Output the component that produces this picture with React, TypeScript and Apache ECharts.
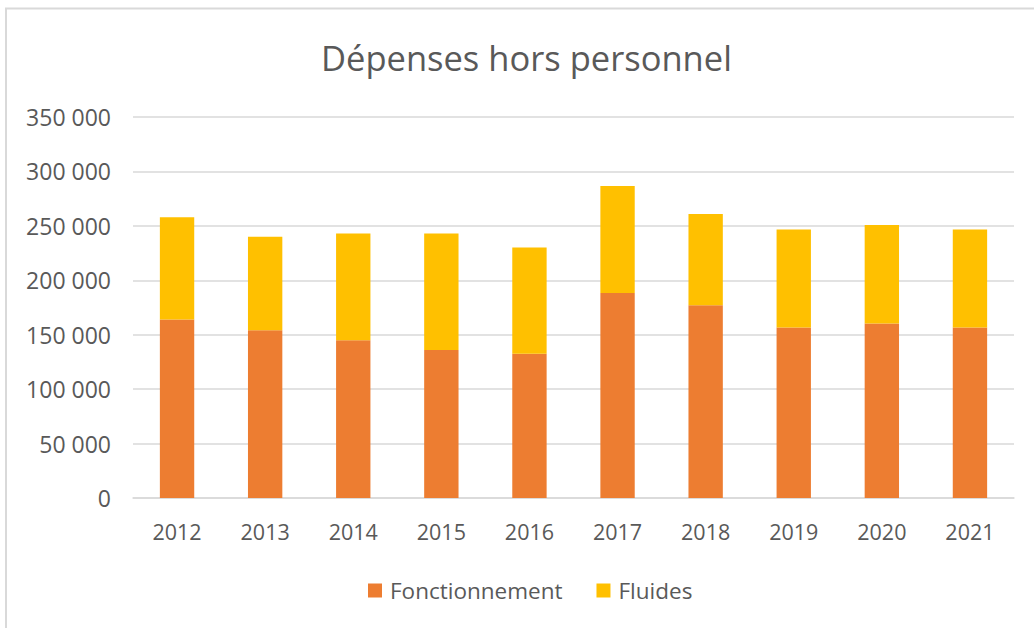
import React, { useEffect, useRef } from "react";
import * as echarts from "echarts";

const years = ["2012", "2013", "2014", "2015", "2016", "2017", "2018", "2019", "2020", "2021"];
const fonctionnement = [164000, 154000, 145000, 136000, 132500, 188300, 177000, 156700, 160400, 156700];
const fluides = [94000, 86000, 98000, 107000, 97700, 98200, 83800, 90000, 90300, 90000];
const yTicks = { min: 0, max: 350000, interval: 50000 };

const fmt = (v: number) => String(v).replace(/\B(?=(\d{3})+(?!\d))/g, " ");

export default function App() {
  const ref = useRef<HTMLDivElement>(null);
  useEffect(() => {
    const chart = echarts.init(ref.current!, undefined, { renderer: "svg" });
    const font = "'Open Sans', 'Noto Sans', sans-serif";
    chart.setOption({
      animation: false,
      backgroundColor: "#ffffff",
      textStyle: { fontFamily: font },
      title: {
        text: "Dépenses hors personnel",
        left: 316,
        top: 35,
        textStyle: { fontSize: 34.5, fontWeight: "normal", color: "#595959", fontFamily: font },
      },
      graphic: [
        {
          type: "line",
          shape: { x1: 5, y1: 8.5, x2: 1034, y2: 8.5 },
          style: { stroke: "#d9d9d9", lineWidth: 2 },
          silent: true,
        },
        {
          type: "line",
          shape: { x1: 6, y1: 8, x2: 6, y2: 628 },
          style: { stroke: "#d9d9d9", lineWidth: 2 },
          silent: true,
        },
      ],
      legend: {
        top: 574,
        left: 363,
        itemWidth: 14,
        itemHeight: 14,
        itemGap: 34,
        icon: "rect",
        textStyle: { fontSize: 22.5, color: "#595959", fontFamily: font, padding: [0, 0, 0, 3] },
        data: ["Fonctionnement", "Fluides"],
      },
      grid: { left: 133, right: 20, top: 117, bottom: 130, containLabel: false },
      xAxis: {
        type: "category",
        data: years,
        axisLine: { lineStyle: { color: "#d9d9d9", width: 1.5 } },
        axisTick: { show: false },
        axisLabel: { fontSize: 21.5, color: "#595959", margin: 22, fontFamily: font },
      },
      yAxis: {
        type: "value",
        min: yTicks.min,
        max: yTicks.max,
        interval: yTicks.interval,
        axisLine: { show: false },
        axisTick: { show: false },
        splitLine: { lineStyle: { color: "#d9d9d9", width: 1.5 } },
        axisLabel: { fontSize: 23, color: "#595959", margin: 22, formatter: (v: number) => fmt(v), fontFamily: font },
      },
      series: [
        {
          name: "Fonctionnement",
          type: "bar",
          stack: "total",
          data: fonctionnement,
          barWidth: "39%",
          itemStyle: { color: "#ed7d31" },
        },
        {
          name: "Fluides",
          type: "bar",
          stack: "total",
          data: fluides,
          barWidth: "39%",
          itemStyle: { color: "#ffc000" },
        },
      ],
    });
    return () => chart.dispose();
  }, []);
  return <div ref={ref} style={{ position: "fixed", left: 0, top: 0, width: 1034, height: 628 }} />;
}
